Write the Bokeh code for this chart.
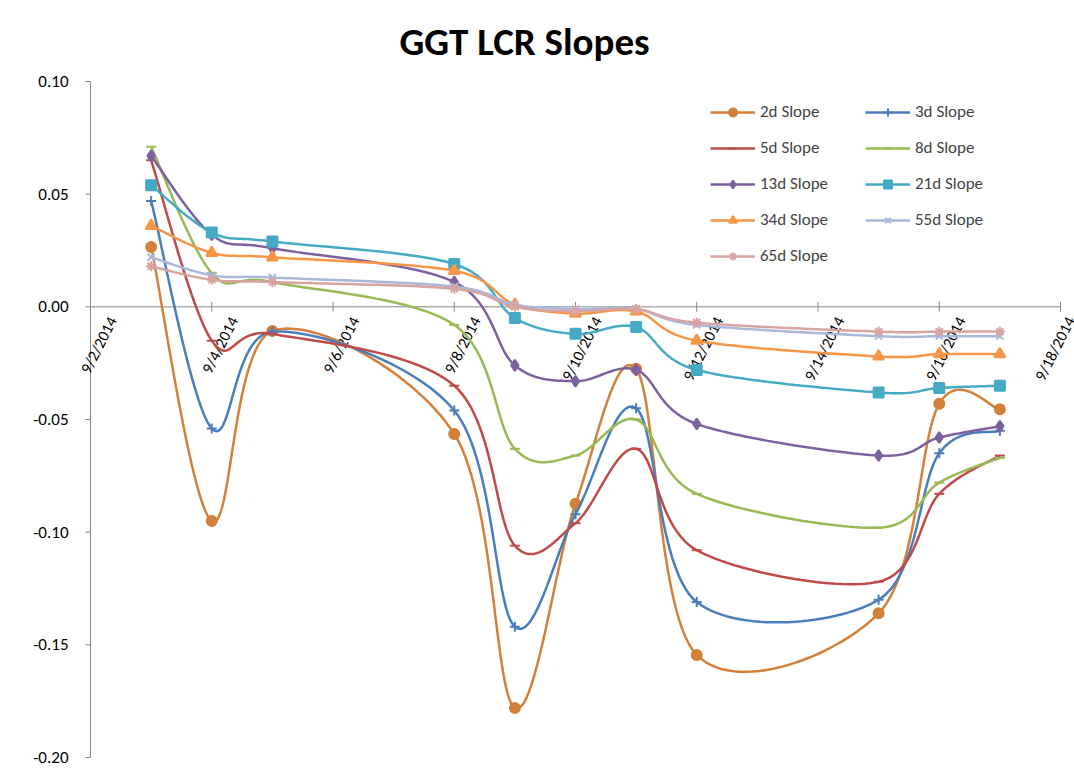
import numpy as np
from bokeh.plotting import figure
from bokeh.models import Legend, LegendItem, Range1d, Title, ColumnDataSource
from bokeh.core.properties import value
from bokeh.embed import file_html
from bokeh.resources import INLINE

days = [1, 2, 3, 6, 7, 8, 9, 10, 13, 14, 15]  # days after 9/2/2014
tick_days = [0, 2, 4, 6, 8, 10, 12, 14, 16]
tick_labels = ["9/2/2014", "9/4/2014", "9/6/2014", "9/8/2014", "9/10/2014",
               "9/12/2014", "9/14/2014", "9/16/2014", "9/18/2014"]
y_ticks = [-0.20, -0.15, -0.10, -0.05, 0.0, 0.05, 0.10]
y_labels = ["-0.20", "-0.15", "-0.10", "-0.05", "0.00", "0.05", "0.10"]

s2 = [0.0266, -0.095, -0.0107, -0.0564, -0.178, -0.0874, -0.0275, -0.1545, -0.136, -0.043, -0.0455]
s3 = [0.047, -0.054, -0.011, -0.046, -0.142, -0.092, -0.045, -0.131, -0.130, -0.065, -0.055]
s5 = [0.065, -0.015, -0.012, -0.035, -0.106, -0.096, -0.063, -0.108, -0.122, -0.083, -0.066]
s8 = [0.071, 0.015, 0.011, -0.008, -0.063, -0.066, -0.050, -0.083, -0.098, -0.078, -0.067]
s13 = [0.067, 0.032, 0.026, 0.011, -0.026, -0.033, -0.028, -0.052, -0.066, -0.058, -0.053]
s21 = [0.054, 0.033, 0.029, 0.019, -0.005, -0.012, -0.009, -0.028, -0.038, -0.036, -0.035]
s34 = [0.036, 0.024, 0.022, 0.016, 0.001, -0.003, -0.002, -0.015, -0.022, -0.021, -0.021]
s55 = [0.022, 0.014, 0.013, 0.009, 0.001, -0.001, -0.001, -0.008, -0.013, -0.013, -0.013]
s65 = [0.018, 0.012, 0.011, 0.008, 0.000, -0.002, -0.001, -0.007, -0.011, -0.011, -0.011]

series = [
    ("2d Slope", s2, "#D2803A", "circle", 10),
    ("3d Slope", s3, "#4A7EBB", "cross", 10),
    ("5d Slope", s5, "#BE4B48", "dash", 10),
    ("8d Slope", s8, "#98B954", "dash", 10),
    ("13d Slope", s13, "#7D60A0", "diamond", 11),
    ("21d Slope", s21, "#46AAC5", "square", 10),
    ("34d Slope", s34, "#F79646", "triangle", 11),
    ("55d Slope", s55, "#A9B8DA", "x", 10),
    ("65d Slope", s65, "#D9A3A0", "asterisk", 10),
]

def smooth(xs, ys, n=30):
    xs = np.asarray(xs, float); ys = np.asarray(ys, float)
    sx = xs / 16.0; sy = ys / 0.30 * (676 / 970)
    px, py = [], []
    for i in range(len(xs) - 1):
        p0 = np.array([sx[max(i-1, 0)], sy[max(i-1, 0)]])
        p1 = np.array([sx[i], sy[i]]); p2 = np.array([sx[i+1], sy[i+1]])
        p3 = np.array([sx[min(i+2, len(xs)-1)], sy[min(i+2, len(xs)-1)]])
        c1 = p1 + (p2 - p0) / 6.0
        c2 = p2 - (p3 - p1) / 6.0
        t = np.linspace(0, 1, n, endpoint=(i == len(xs) - 2))[:, None]
        b = (1-t)**3*p1 + 3*(1-t)**2*t*c1 + 3*(1-t)*t**2*c2 + t**3*p2
        px.extend(b[:, 0]); py.extend(b[:, 1])
    px = np.array(px) * 16.0; py = np.array(py) * 0.30 / (676 / 970)
    return px, py

FONT = "Calibri, Carlito, Lato, Arial"
PXDAY = 970 / 16.0
PXY = 0.30 / 676
W, H = 1074, 768
LEFT, RIGHT, TOP, BOTTOM = 2, 0, 69, 1
x0 = -(90 - LEFT) / PXDAY
x1 = 16 + (W - RIGHT - 1060) / PXDAY
y1 = 0.10 + (81 - TOP) * PXY
y0 = -0.20 - (H - BOTTOM - 757) * PXY
p = figure(width=W, height=H, output_backend="svg", toolbar_location=None,
           x_range=Range1d(x0, x1), y_range=Range1d(y0, y1),
           min_border_left=LEFT, min_border_right=RIGHT, min_border_top=TOP, min_border_bottom=BOTTOM)
t = Title(text="GGT LCR Slopes", align="left", offset=399 - LEFT, text_font=FONT,
          text_font_size="39px", text_font_style="bold", text_color="#000000", standoff=10)
p.add_layout(t, "above")
p.outline_line_color = None
p.xgrid.visible = False
p.ygrid.visible = False
p.yaxis.visible = False
p.xaxis.visible = False

AX = "#868686"
p.segment(x0=[0], y0=[-0.20], x1=[0], y1=[0.10], line_color=AX, line_width=1)
p.segment(x0=[0] * len(y_ticks), y0=y_ticks, x1=[-5 / PXDAY] * len(y_ticks), y1=y_ticks,
          line_color=AX, line_width=1)
p.text(x=[-22 / PXDAY] * len(y_ticks), y=y_ticks, text=y_labels, text_align="right",
       text_baseline="middle", text_font=value(FONT), text_font_size="17px", text_color="#000000")
p.segment(x0=[0], y0=[0], x1=[16], y1=[0], line_color=AX, line_width=1)
p.segment(x0=tick_days, y0=[5 * PXY] * len(tick_days), x1=tick_days, y1=[-5 * PXY] * len(tick_days),
          line_color=AX, line_width=1)
xoffs = [22] * (len(tick_days) - 1) + [10]
lab_src = ColumnDataSource(dict(x=tick_days, y=[0] * len(tick_days), text=tick_labels, xo=xoffs))
p.text(x="x", y="y", text="text", source=lab_src, angle=1.1,
       text_align="right", text_baseline="middle", x_offset="xo", y_offset=11,
       text_font=value(FONT), text_font_size="16px", text_color="#000000")

items = {}
for name, ys, col, mk, sz in series:
    lx, ly = smooth(days, ys)
    r1 = p.line(lx, ly, line_color=col, line_width=2.5)
    r2 = p.scatter(days, ys, marker=mk, size=sz, fill_color=col, line_color=col, line_width=2)
    items[name] = LegendItem(label=name, renderers=[r1, r2])

order = ["2d Slope", "5d Slope", "13d Slope", "34d Slope", "65d Slope",
         "3d Slope", "8d Slope", "21d Slope", "55d Slope"]

legend = Legend(items=[items[n] for n in order], ncols=2, location=(620 + 90 - LEFT, 501),
                border_line_color=None, background_fill_alpha=0, label_text_font=FONT,
                label_text_font_size="17px", glyph_width=45, spacing=15, label_width=90)
p.add_layout(legend, "center")

open("out.html", "w").write(file_html(p, INLINE))
